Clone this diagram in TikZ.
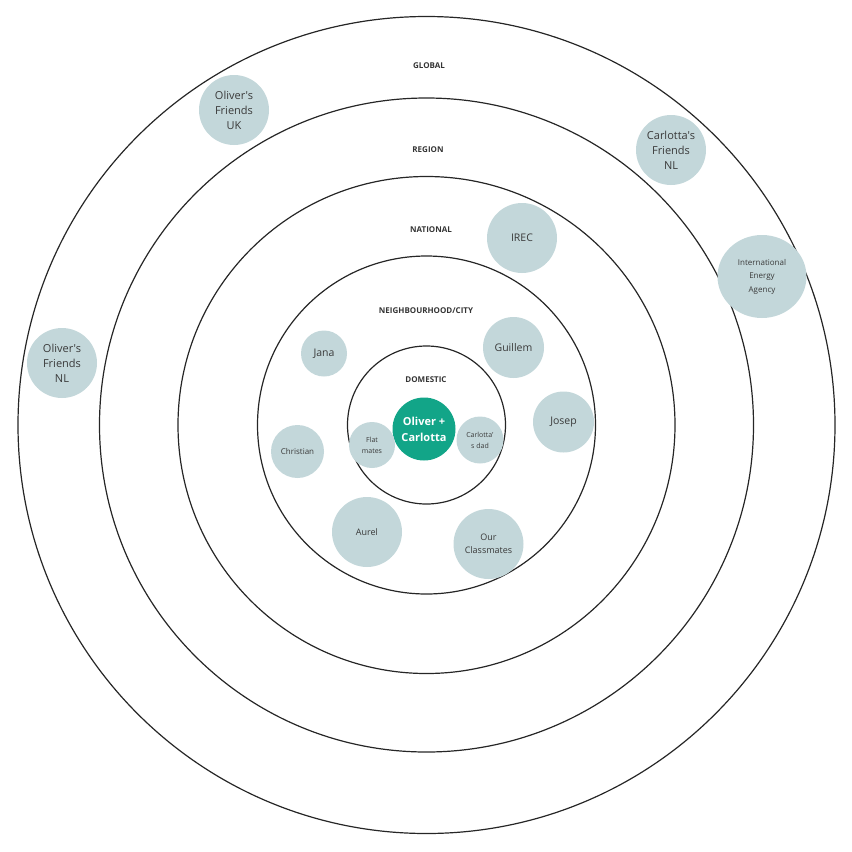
\documentclass[tikz,border=0pt]{standalone}
\usepackage{fontspec}
\setmainfont{Open Sans}[Ligatures=TeXOff]
\usepackage{tikz}
\usetikzlibrary{positioning,shapes.geometric}
\definecolor{bubblefill}{HTML}{C3D7DA}
\definecolor{coupleteal}{HTML}{12A588}
\definecolor{textgray}{HTML}{3A3A3A}
\definecolor{ringline}{HTML}{262626}

\begin{document}
\begin{tikzpicture}[
    x=1pt, y=-1pt,
    ring/.style={draw=ringline, line width=1.2pt},
    levellbl/.style={font=\fontsize{8}{9}\selectfont\bfseries, text=textgray!90!black},
    bubble/.style={circle, fill=bubblefill, inner sep=0pt, align=center, text=textgray},
    couple/.style={circle, fill=coupleteal, inner sep=0pt, align=center, text=white, font=\fontsize{11}{16}\selectfont\bfseries},
]
\useasboundingbox (0,0) rectangle (852,852);
\coordinate (ctr) at (426.5,425);

% Concentric rings, outermost first.
\draw[ring] (ctr) circle (408.5);
\draw[ring] (ctr) circle (327);
\draw[ring] (ctr) circle (248.5);
\draw[ring] (ctr) circle (169);
\draw[ring] (ctr) circle (79);

% Ring labels.
\node[levellbl] (global)   at (429,66)  {GLOBAL};
\node[levellbl] (region)   at (428,150) {REGION};
\node[levellbl] (national) at (431,230) {NATIONAL};
\node[levellbl] (city)     at (426,311) {NEIGHBOURHOOD/CITY};
\node[levellbl] (domestic) at (426,380) {DOMESTIC};

% Domestic circle.
\node[couple, minimum size=63pt] (us) at (424,429) {Oliver +\\Carlotta};
\node[bubble, minimum size=46pt, font=\fontsize{7}{11}\selectfont] (flat) at (372,445) {Flat\\mates};
\node[bubble, minimum size=47pt, font=\fontsize{7}{11}\selectfont] (dad) at (480,440) {Carlotta'\\s dad};

% Neighbourhood / city.
\node[bubble, minimum size=46pt, font=\fontsize{10.5}{14}\selectfont] (jana) at (324,353.5) {Jana};
\node[bubble, minimum size=53pt, font=\fontsize{8}{11}\selectfont] (christian) at (297.5,451.5) {Christian};
\node[bubble, minimum size=70pt, font=\fontsize{9}{13}\selectfont] (aurel) at (367,532) {Aurel};
\node[bubble, minimum size=70pt, font=\fontsize{9}{13.5}\selectfont] (classmates) at (488.5,544) {Our\\Classmates};
\node[bubble, minimum size=61pt, font=\fontsize{10.5}{14}\selectfont] (guillem) at (513.5,347.5) {Guillem};
\node[bubble, minimum size=61pt, font=\fontsize{10.5}{14}\selectfont] (josep) at (563.5,422) {Josep};

% National.
\node[bubble, minimum size=70pt, font=\fontsize{10.5}{14}\selectfont] (irec) at (522,238) {IREC};

% Region and global.
\node[bubble, minimum size=70pt, font=\fontsize{11}{15}\selectfont] (ukfriends) at (234,110) {Oliver's\\Friends\\UK};
\node[bubble, minimum size=70pt, font=\fontsize{11}{15}\selectfont] (nlfriendsc) at (671,150) {Carlotta's\\Friends\\NL};
\node[bubble, ellipse, minimum width=89pt, minimum height=83pt, font=\fontsize{8}{13.5}\selectfont] (iea) at (762,276.5) {International\\Energy\\Agency};
\node[bubble, minimum size=70pt, font=\fontsize{11}{15}\selectfont] (nlfriendso) at (62,363) {Oliver's\\Friends\\NL};
\end{tikzpicture}
\end{document}
